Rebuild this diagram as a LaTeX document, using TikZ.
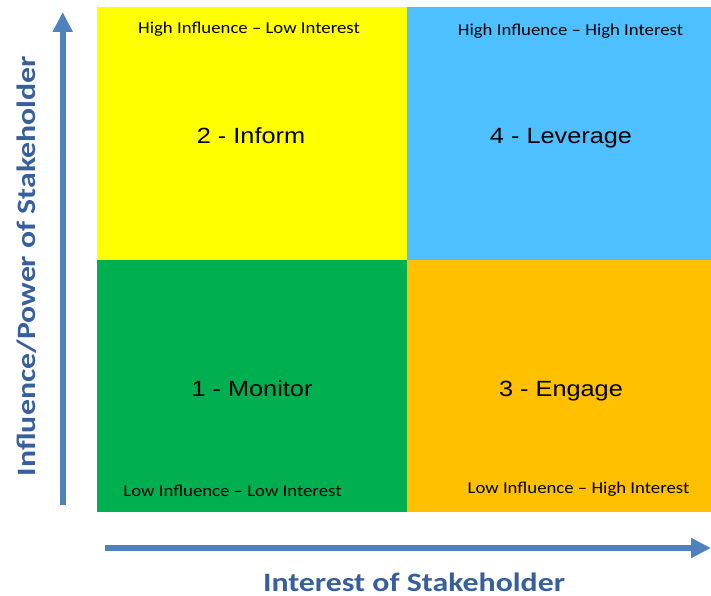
\documentclass[tikz,border=0pt]{standalone}
\usepackage{fontspec}
\setmainfont{Carlito}
\newfontfamily\arialf{Liberation Sans}
\usetikzlibrary{arrows.meta}
\definecolor{qyellow}{HTML}{FFFF00}
\definecolor{qblue}{HTML}{4FC0FF}
\definecolor{qgreen}{HTML}{00B050}
\definecolor{qorange}{HTML}{FFC000}
\definecolor{axisblue}{HTML}{4F81BD}
\definecolor{labelblue}{HTML}{365F9C}
\newcommand{\wideS}[1]{\scalebox{1.13}[1]{#1}}
\newcommand{\wideB}[1]{\scalebox{1.15}[1]{#1}}
\newcommand{\wideA}[1]{\scalebox{1.2}[1]{#1}}
\tikzset{
  quad/.style={draw=none, minimum width=310bp, minimum height=252bp, anchor=north west, inner sep=0pt, outer sep=0pt},
  small/.style={font=\fontsize{16.6bp}{19bp}\selectfont, text=black, inner sep=0pt, anchor=base},
  big/.style={font=\arialf\fontsize{22bp}{26bp}\selectfont, text=black, inner sep=0pt, anchor=base},
  axlabel/.style={font=\bfseries\fontsize{26.5bp}{30bp}\selectfont, text=labelblue, inner sep=0pt, anchor=base},
  axisarrow/.style={draw=axisblue, line width=6bp, -{Triangle[width=19bp,length=20bp]}}
}
\begin{document}
\begin{tikzpicture}[x=1bp,y=-1bp]
\useasboundingbox (0,0) rectangle (711,596);
\node[quad, fill=qyellow] (q2) at (97,7.5) {};
\node[quad, fill=qblue, minimum width=304bp] (q4) at (407,7.5) {};
\node[quad, fill=qgreen] (q1) at (97,259.5) {};
\node[quad, fill=qorange, minimum width=304bp] (q3) at (407,259.5) {};
\node[small] (t2) at (249,33.3) {\wideS{High Influence – Low Interest}};
\node[small] (t4) at (570.5,36) {\wideS{High Influence – High Interest}};
\node[small] (t1) at (232.5,496) {\wideS{Low Influence – Low Interest}};
\node[small] (t3) at (578.5,493) {\wideS{Low Influence – High Interest}};
\node[big] (n2) at (251,144) {\wideB{2 - Inform}};
\node[big] (n4) at (561,144) {\wideB{4 - Leverage}};
\node[big] (n1) at (252,396) {\wideB{1 - Monitor}};
\node[big] (n3) at (561,396) {\wideB{3 - Engage}};
\coordinate (vs) at (62.7,505);
\coordinate (ve) at (62.7,12);
\coordinate (hs) at (105,548);
\coordinate (he) at (711,548);
\draw[axisarrow] (vs) -- (ve);
\draw[axisarrow] (hs) -- (he);
\node[axlabel] (xl) at (414,591) {\wideA{Interest of Stakeholder}};
\node[axlabel, rotate=90] (yl) at (35.5,266) {\wideA{Influence/Power of Stakeholder}};
\end{tikzpicture}
\end{document}
